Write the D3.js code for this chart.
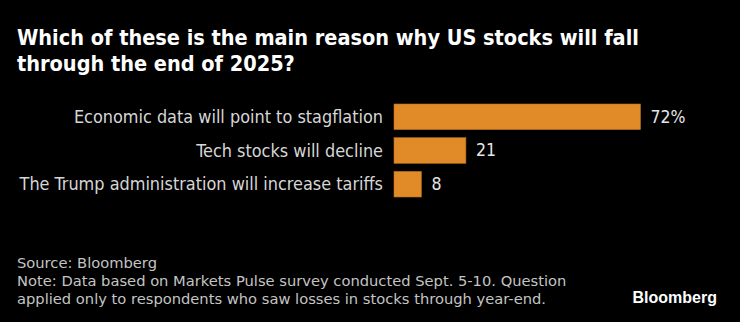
<!DOCTYPE html>
<html>
<head>
<meta charset="utf-8">
<script src="https://cdn.jsdelivr.net/npm/d3@7"></script>
<style>
  html, body { margin: 0; padding: 0; background: #000; }
  svg { display: block; }
</style>
</head>
<body>
<svg id="chart" width="740" height="322"></svg>
<script>
// Survey answers and their shares (%)
const categories = [
  "Economic data will point to stagflation",
  "Tech stocks will decline",
  "The Trump administration will increase tariffs"
];
const values = [72, 21, 8];
const valueLabels = ["72%", "21", "8"];

const titleLines = [
  "Which of these is the main reason why US stocks will fall",
  "through the end of 2025?"
];
const footerLines = [
  "Source: Bloomberg",
  "Note: Data based on Markets Pulse survey conducted Sept. 5-10. Question",
  "applied only to respondents who saw losses in stocks through year-end."
];

const W = 740, H = 322;
const cond = "'DejaVu Sans Condensed', 'Liberation Sans Narrow', sans-serif";
const regular = "'DejaVu Sans', 'Liberation Sans', sans-serif";
const svg = d3.select("#chart");

svg.append("rect").attr("width", W).attr("height", H).attr("fill", "#000");

// Title
svg.append("g").selectAll("text").data(titleLines).join("text")
  .attr("x", 17)
  .attr("y", (d, i) => 44.5 + i * 26.5)
  .attr("fill", "#ffffff")
  .attr("font-family", cond)
  .attr("font-weight", "bold")
  .attr("font-size", 21.5)
  .text(d => d);

// Bars
const x = d3.scaleLinear().domain([0, 72]).range([394, 640.5]);
const y = d3.scaleBand().domain(categories).range([104, 197]).paddingInner(0.24).paddingOuter(0);

const g = svg.append("g");
g.selectAll("rect").data(categories).join("rect")
  .attr("x", x(0))
  .attr("y", d => y(d))
  .attr("width", (d, i) => x(values[i]) - x(0))
  .attr("height", y.bandwidth())
  .attr("fill", "#e08a28")
  .attr("stroke", "#b86e1c")
  .attr("stroke-width", 0.6);

// Category labels
g.selectAll("text.cat").data(categories).join("text")
  .attr("class", "cat")
  .attr("x", 383)
  .attr("y", d => y(d) + y.bandwidth() / 2)
  .attr("dy", "0.34em")
  .attr("text-anchor", "end")
  .attr("fill", "#d6d6d6")
  .attr("font-family", cond)
  .attr("font-size", 17.9)
  .text(d => d);

// Value labels
g.selectAll("text.val").data(categories).join("text")
  .attr("class", "val")
  .attr("x", (d, i) => x(values[i]) + 10)
  .attr("y", d => y(d) + y.bandwidth() / 2)
  .attr("dy", "0.34em")
  .attr("fill", "#e6e6e6")
  .attr("font-family", cond)
  .attr("font-size", 17.5)
  .text((d, i) => valueLabels[i]);

// Footer
svg.append("g").selectAll("text").data(footerLines).join("text")
  .attr("x", 17)
  .attr("y", (d, i) => 268 + i * 17.8)
  .attr("fill", "#c4c4c4")
  .attr("font-family", regular)
  .attr("font-size", 14.7)
  .text(d => d);

// Wordmark
svg.append("text")
  .attr("x", 717)
  .attr("y", 303)
  .attr("text-anchor", "end")
  .attr("fill", "#ffffff")
  .attr("font-family", "'Liberation Sans', Arial, sans-serif")
  .attr("font-weight", "bold")
  .attr("font-size", 16)
  .text("Bloomberg");
</script>
</body>
</html>
